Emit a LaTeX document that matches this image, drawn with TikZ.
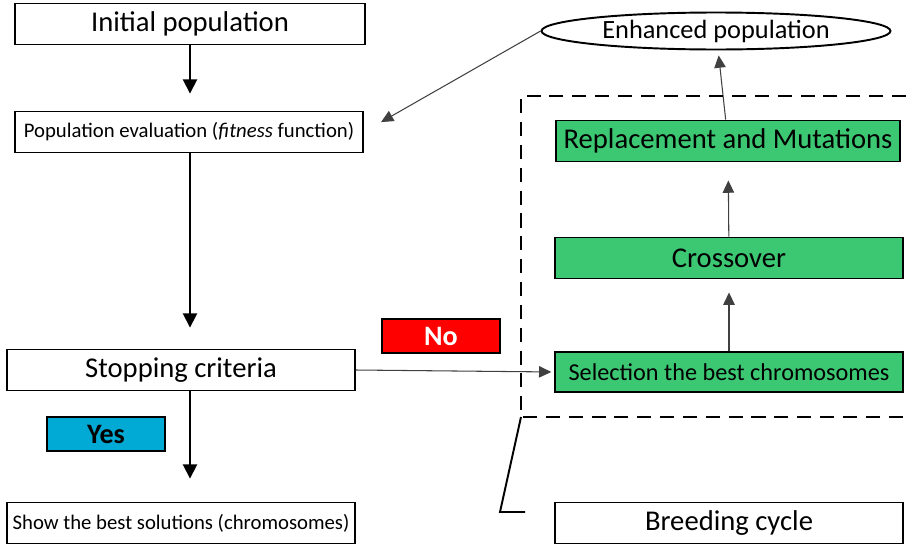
\documentclass[tikz,border=0pt]{standalone}
\usepackage{fontspec}
\setmainfont{Carlito}
\usetikzlibrary{arrows.meta,shapes.geometric}
\definecolor{stepgreen}{RGB}{60,200,115}
\definecolor{yesblue}{RGB}{0,170,212}
\tikzset{
  box/.style={draw,line width=1.1pt,inner sep=0pt,minimum height=0.82cm},
  wide/.style={box,minimum width=6.95cm},
  green/.style={wide,fill=stepgreen},
  flag/.style={box,minimum width=2.36cm,minimum height=0.69cm,text=white,font=\fontsize{16}{18}\selectfont\bfseries},
  big/.style={font=\fontsize{16.3}{18}\selectfont},
  small/.style={font=\fontsize{11.8}{13}\selectfont},
  down/.style={-{Triangle[width=8pt,length=8pt]},line width=1pt},
  up/.style={-{Triangle[width=6.5pt,length=7pt]},line width=0.6pt,draw=black!75}
}
\begin{document}
\begin{tikzpicture}[x=0.02cm,y=-0.02cm]
  \useasboundingbox (0,0) rectangle (906,548);

  \node[wide,big,minimum width=7cm] (Init) at (190,24) {Initial population};
  \node[wide,small] (Eval) at (189,132) {Population evaluation (\textit{fitness} function)};
  \node[wide,big] (Stop) at (181,370) {Stopping criteria};
  \node[wide,small] (Show) at (181,523) {Show the best solutions (chromosomes)};
  \node[flag,fill=yesblue,text=black] (Yes) at (106,434) {Yes};
  \node[flag,fill=red] (No) at (441,336) {No};
  \draw[down,shorten >=0.34cm] (Init.south) -- (Init.south |- Eval.north);
  \draw[down,shorten >=0.42cm] (Init.south |- Eval.south) -- (Init.south |- Stop.north);
  \draw[down,shorten >=0.46cm] (Init.south |- Stop.south) -- (Init.south |- Show.north);

  \node[green,font=\fontsize{13.8}{15}\selectfont,minimum height=0.8cm] (Sel) at (729,372) {Selection the best chromosomes};
  \node[green,big] (Cross) at (729,258) {Crossover};
  \node[green,big,minimum width=6.88cm] (Repl) at (728,141) {Replacement and Mutations};
  \node[ellipse,draw,line width=1.1pt,inner sep=0pt,minimum width=6.98cm,minimum height=0.74cm,
        font=\fontsize{15}{17}\selectfont] (Enh) at (716,31) {Enhanced population};
  \node[wide,big] (Breed) at (729,523) {Breeding cycle};
  \draw[up,shorten >=0.26cm] (Sel) -- (Cross);
  \draw[up,shorten >=0.36cm] (Cross) -- (Repl);
  \draw[up,shorten >=0.1cm] (Repl) -- (Enh);
  \draw[up,shorten >=0.06cm] (Stop.east) -- (Sel.west);
  \draw[up,shorten >=0.4cm] (Enh.west) -- (Eval.east);

  % breeding cycle frame
  \coordinate (FrameTR) at (906,96);
  \coordinate (FrameTL) at (521,96);
  \coordinate (FrameBL) at (521,417);
  \coordinate (FrameBR) at (906,417);
  \coordinate (Knee) at (500,512);
  \coordinate (Foot) at (525,512);
  \draw[dashed,line width=1.6pt,dash pattern=on 8pt off 5pt]
    (FrameTR) -- (FrameTL) -- (FrameBL) -- (FrameBR);
  \draw[line width=1.1pt] (FrameBL) -- (Knee) -- (Foot);
\end{tikzpicture}
\end{document}
